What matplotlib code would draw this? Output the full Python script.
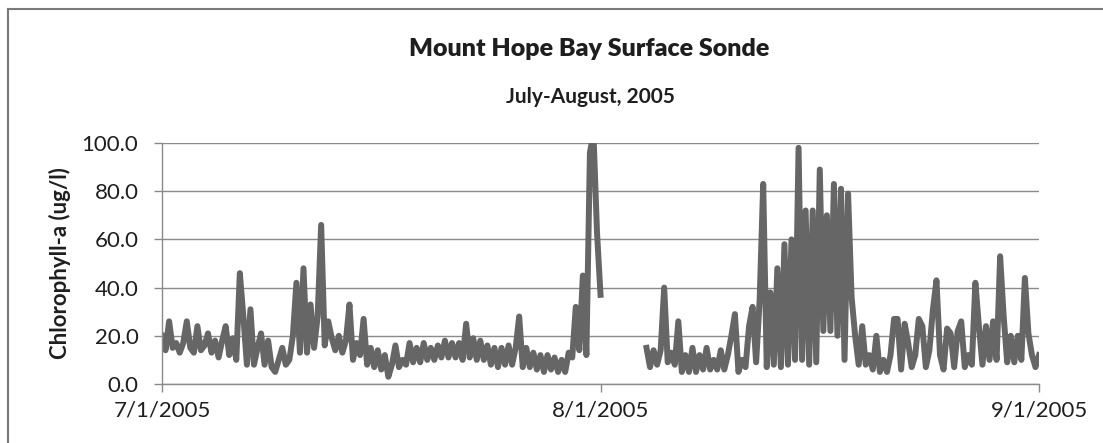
import matplotlib.pyplot as plt
import numpy as np
import pandas as pd
from matplotlib.patches import Rectangle

plt.rcParams['font.family'] = ['Lato', 'DejaVu Sans']

nan = np.nan

# chlorophyll-a readings, four per day (00h, 06h, 12h, 18h)
july = [
    20, 14, 26, 15,
    17, 13, 17, 26,
    15, 13, 24, 14,
    16, 21, 13, 18,
    11, 18, 24, 12,
    19, 10, 46, 28,
    8, 31, 8, 15,
    21, 8, 18, 7,
    5, 10, 15, 8,
    10, 20, 42, 13,
    48, 13, 33, 15,
    28, 66, 16, 26,
    19, 14, 20, 13,
    18, 33, 10, 17,
    12, 27, 8, 15,
    7, 14, 6, 12,
    3, 8, 16, 7,
    10, 8, 17, 9,
    15, 9, 17, 10,
    15, 10, 16, 11,
    18, 11, 17, 11,
    17, 10, 25, 11,
    19, 10, 18, 10,
    16, 8, 15, 7,
    15, 8, 16, 8,
    15, 28, 7, 15,
    7, 13, 6, 12,
    5, 12, 6, 11,
    5, 10, 5, 13,
    11, 32, 14, 45,
    12, 96, 104, 63,
]

august = [
    37, nan, nan, nan,
    nan, nan, nan, nan,
    nan, nan, nan, nan,
    nan, 15, 7, 14,
    8, 14, 40, 9,
    13, 8, 26, 5,
    12, 5, 15, 5,
    12, 6, 15, 6,
    10, 6, 14, 6,
    12, 20, 29, 5,
    10, 7, 24, 32,
    9, 35, 83, 7,
    38, 8, 48, 7,
    58, 8, 60, 10,
    98, 10, 72, 8,
    72, 9, 89, 22,
    70, 22, 83, 20,
    81, 10, 79, 36,
    20, 8, 24, 8,
    12, 6, 20, 5,
    10, 5, 12, 27,
    27, 6, 25, 17,
    7, 12, 27, 24,
    7, 14, 31, 43,
    12, 6, 23, 21,
    7, 22, 26, 7,
    12, 8, 42, 24,
    8, 24, 10, 26,
    10, 53, 28, 9,
    20, 9, 20, 10,
    44, 21, 12, 7,
    12,
]

chl = np.array(july + august, dtype=float)
times = pd.date_range('2005-07-01', periods=len(chl), freq='6h')

tick_dates = pd.to_datetime(['2005-07-01', '2005-08-01', '2005-09-01'])
tick_labels = ['7/1/2005', '8/1/2005', '9/1/2005']
y_ticks = [0, 20, 40, 60, 80, 100]

fig = plt.figure(figsize=(11.03, 4.43), dpi=100)
ax = fig.add_axes([0.1469, 0.1332, 0.942 - 0.1469, 0.544])

ax.plot(times, chl, color='#666666', lw=4.3, solid_joinstyle='round')

ax.set_ylim(0, 100)
ax.set_xlim(tick_dates[0], tick_dates[-1])
ax.set_yticks(y_ticks)
ax.set_yticklabels(['%.1f' % v for v in y_ticks])
ax.set_xticks(tick_dates)
ax.set_xticklabels(tick_labels)
ax.grid(axis='y', color='#8a8a8a', lw=1.0)
ax.set_axisbelow(True)

for s in ['top', 'right']:
    ax.spines[s].set_visible(False)
for s in ['left', 'bottom']:
    ax.spines[s].set_color('#8a8a8a')
    ax.spines[s].set_linewidth(1.0)
ax.tick_params(axis='both', colors='#8a8a8a', labelcolor='#1e1e1e',
               labelsize=16, length=6, width=1.0)
ax.tick_params(axis='y', pad=11)
ax.tick_params(axis='x', pad=6)
ax.set_ylabel('Chlorophyll-a (ug/l)', fontsize=16, fontweight='bold',
              color='#1e1e1e', labelpad=8)

fig.text(0.534, 0.89, 'Mount Hope Bay Surface Sonde', ha='center', va='center',
         fontsize=18, fontweight='heavy', color='#1e1e1e')
fig.text(0.535, 0.78, 'July-August, 2005', ha='center', va='center',
         fontsize=15, fontweight='bold', color='#1e1e1e')

# chart border
fig.patches.append(Rectangle((8 / 1103, -0.2), 1.1, 1.2 - 9 / 443,
                             transform=fig.transFigure, fill=False,
                             edgecolor='#7a7a7a', lw=1.5))

fig.savefig('out.png', dpi=100)
